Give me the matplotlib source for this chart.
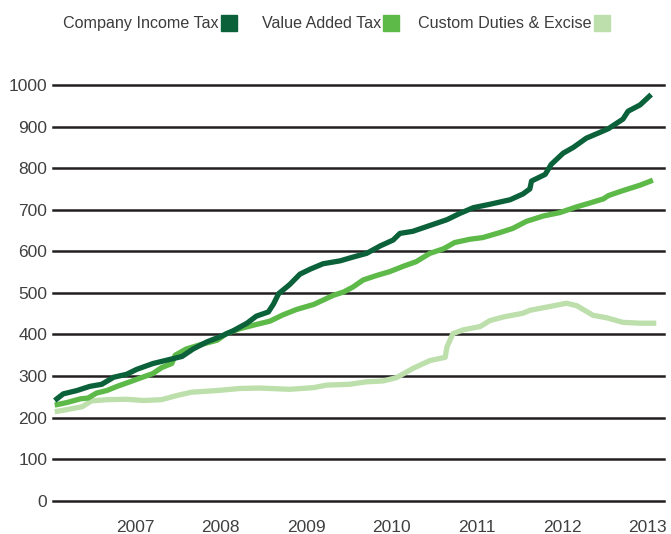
import matplotlib.pyplot as plt
from matplotlib.patches import Rectangle

# --- data (x in decimal years) ---
cit_x = [2006.06, 2006.16, 2006.32, 2006.47, 2006.61, 2006.75, 2006.90, 2007.02,
         2007.21, 2007.41, 2007.55, 2007.68, 2007.84, 2007.99, 2008.15, 2008.31,
         2008.42, 2008.56, 2008.62, 2008.68, 2008.81, 2008.93, 2009.05, 2009.20,
         2009.40, 2009.55, 2009.71, 2009.87, 2010.02, 2010.10, 2010.25, 2010.45,
         2010.65, 2010.80, 2010.96, 2011.15, 2011.39, 2011.54, 2011.62, 2011.64,
         2011.80, 2011.87, 2012.01, 2012.13, 2012.28, 2012.44, 2012.54, 2012.71,
         2012.77, 2012.91, 2013.04]
cit_y = [241, 257, 265, 275, 280, 297, 304, 316, 330, 340, 347, 365, 382, 394,
         409, 427, 444, 454, 473, 498, 520, 545, 557, 570, 577, 586, 595, 613,
         627, 643, 648, 662, 676, 691, 705, 713, 724, 738, 750, 769, 785, 809,
         836, 850, 872, 886, 895, 918, 937, 952, 977]

vat_x = [2006.06, 2006.20, 2006.36, 2006.45, 2006.55, 2006.67, 2006.79, 2006.94,
         2007.06, 2007.21, 2007.31, 2007.43, 2007.47, 2007.60, 2007.76, 2007.96,
         2008.07, 2008.23, 2008.42, 2008.58, 2008.73, 2008.89, 2009.09, 2009.32,
         2009.44, 2009.55, 2009.67, 2009.83, 2009.98, 2010.14, 2010.29, 2010.45,
         2010.61, 2010.74, 2010.92, 2011.07, 2011.27, 2011.42, 2011.58, 2011.78,
         2011.97, 2012.17, 2012.32, 2012.48, 2012.54, 2012.71, 2012.91, 2013.06]
vat_y = [230, 236, 245, 247, 259, 265, 275, 286, 295, 306, 320, 330, 350, 365,
         375, 386, 402, 414, 424, 432, 447, 460, 472, 494, 502, 514, 531, 542,
         551, 564, 575, 595, 606, 621, 629, 633, 645, 655, 672, 685, 693, 707,
         716, 726, 734, 746, 759, 771]

cde_x = [2006.06, 2006.20, 2006.38, 2006.49, 2006.67, 2006.90, 2007.10, 2007.31,
         2007.49, 2007.66, 2007.96, 2008.23, 2008.46, 2008.81, 2009.09, 2009.24,
         2009.51, 2009.71, 2009.90, 2010.06, 2010.25, 2010.45, 2010.63, 2010.65,
         2010.72, 2010.84, 2011.04, 2011.15, 2011.31, 2011.54, 2011.62, 2011.85,
         2012.05, 2012.17, 2012.36, 2012.52, 2012.71, 2012.91, 2013.10]
cde_y = [214, 219, 226, 240, 243, 244, 241, 243, 253, 261, 265, 270, 271, 268,
         272, 278, 280, 286, 288, 296, 318, 337, 345, 370, 402, 411, 419, 433,
         442, 451, 458, 467, 475, 469, 446, 440, 429, 427, 427]

labels = ['Company Income Tax', 'Value Added Tax', 'Custom Duties & Excise']
colors = ['#0b6139', '#5db948', '#bcdfab']
years = [2007, 2008, 2009, 2010, 2011, 2012, 2013]
yticks = [0, 100, 200, 300, 400, 500, 600, 700, 800, 900, 1000]

W, H = 671, 534
fig = plt.figure(figsize=(W / 100, H / 100), dpi=100)
ax = fig.add_axes([53 / W, 1 - 500.7 / H, (664 - 53) / W, (500.7 - 85) / H])

for v in yticks:
    ax.axhline(v, color='#231f20', lw=1.8, zorder=1, clip_on=False)

series = [(cit_x, cit_y), (vat_x, vat_y), (cde_x, cde_y)]
for (x, y), c in zip(series[::-1], colors[::-1]):
    ax.plot(x, y, color=c, lw=3.8, solid_capstyle='butt', zorder=3)

ax.set_xlim(2006.04, 2013.19)
ax.set_ylim(0, 1000)
for s in ax.spines.values():
    s.set_visible(False)
ax.tick_params(length=0)
ax.set_yticks(yticks)
ax.set_yticklabels([str(v) for v in yticks], fontsize=12.5,
                   family='Liberation Sans', color='#404040')
ax.tick_params(axis='y', pad=4)
ax.set_xticks(years)
ax.set_xticklabels([str(v) for v in years], fontsize=12.5,
                   family='Liberation Sans', color='#404040')
ax.tick_params(axis='x', pad=14)

# legend: text followed by a colour square
text_right = [219, 381, 592]
for lab, c, xr in zip(labels, colors, text_right):
    fig.text(xr / W, 1 - 23.5 / H, lab, ha='right', va='center',
             fontsize=11.6, family='Liberation Sans', color='#3c3c3c')
    fig.add_artist(Rectangle(((xr + 2) / W, 1 - 31 / H), 16 / W, 16 / H,
                             transform=fig.transFigure, color=c))

fig.savefig('out.png', dpi=100)
